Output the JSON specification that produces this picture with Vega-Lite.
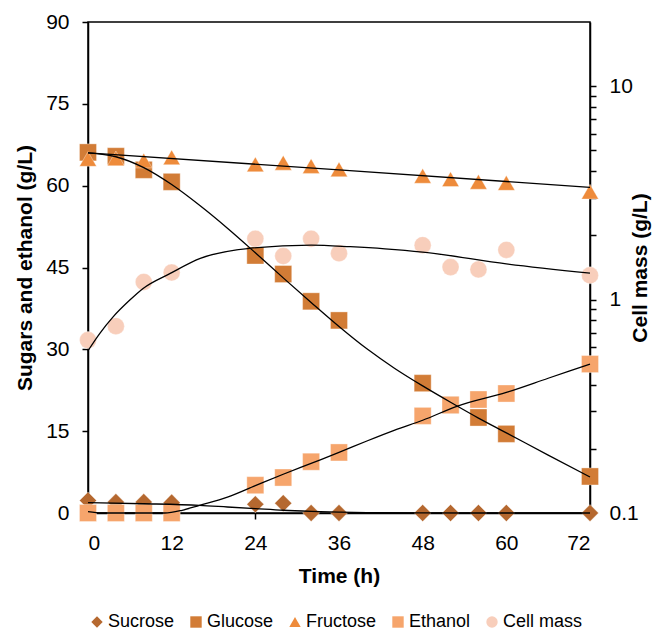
{
  "$schema": "https://vega.github.io/schema/vega-lite/v6.json",
  "width": 502,
  "height": 491,
  "autosize": {"type": "none"},
  "padding": {"left": 88, "top": 22, "right": 76, "bottom": 117},
  "config": {
    "view": {"stroke": "black", "strokeWidth": 1.5},
    "axis": {
      "domainColor": "black", "tickColor": "black", "domainWidth": 1.5, "tickWidth": 1.5, "tickSize": 6,
      "labelFont": "Liberation Sans", "labelFontSize": 21, "labelColor": "black", "labelPadding": 13,
      "titleFont": "Liberation Sans", "titleFontSize": 21, "titleFontWeight": "bold", "titleColor": "black",
      "grid": false
    },
    "legend": {
      "labelFont": "Liberation Sans", "labelFontSize": 18, "labelColor": "black",
      "symbolStrokeWidth": 0, "symbolSize": 130, "labelOffset": 2, "columnPadding": 12
    }
  },
  "datasets": {
    "obs": [
      {"t": 0, "series": "Sucrose", "v": 2.3}, {"t": 4, "series": "Sucrose", "v": 2.0}, {"t": 8, "series": "Sucrose", "v": 2.0}, {"t": 12, "series": "Sucrose", "v": 1.9},
      {"t": 24, "series": "Sucrose", "v": 1.6}, {"t": 28, "series": "Sucrose", "v": 1.8}, {"t": 32, "series": "Sucrose", "v": 0}, {"t": 36, "series": "Sucrose", "v": 0},
      {"t": 48, "series": "Sucrose", "v": 0}, {"t": 52, "series": "Sucrose", "v": 0}, {"t": 56, "series": "Sucrose", "v": 0}, {"t": 60, "series": "Sucrose", "v": 0}, {"t": 72, "series": "Sucrose", "v": 0},
      {"t": 0, "series": "Glucose", "v": 66.1}, {"t": 4, "series": "Glucose", "v": 65.4}, {"t": 8, "series": "Glucose", "v": 62.9}, {"t": 12, "series": "Glucose", "v": 60.7},
      {"t": 24, "series": "Glucose", "v": 47.2}, {"t": 28, "series": "Glucose", "v": 43.8}, {"t": 32, "series": "Glucose", "v": 38.8}, {"t": 36, "series": "Glucose", "v": 35.3},
      {"t": 48, "series": "Glucose", "v": 23.8}, {"t": 52, "series": "Glucose", "v": 19.8}, {"t": 56, "series": "Glucose", "v": 17.5}, {"t": 60, "series": "Glucose", "v": 14.5}, {"t": 72, "series": "Glucose", "v": 6.7},
      {"t": 0, "series": "Fructose", "v": 64.9}, {"t": 4, "series": "Fructose", "v": 65.0}, {"t": 8, "series": "Fructose", "v": 64.6}, {"t": 12, "series": "Fructose", "v": 65.2},
      {"t": 24, "series": "Fructose", "v": 63.9}, {"t": 28, "series": "Fructose", "v": 64.2}, {"t": 32, "series": "Fructose", "v": 63.6}, {"t": 36, "series": "Fructose", "v": 63.0},
      {"t": 48, "series": "Fructose", "v": 61.8}, {"t": 52, "series": "Fructose", "v": 61.2}, {"t": 56, "series": "Fructose", "v": 60.7}, {"t": 60, "series": "Fructose", "v": 60.5}, {"t": 72, "series": "Fructose", "v": 58.9},
      {"t": 0, "series": "Ethanol", "v": 0}, {"t": 4, "series": "Ethanol", "v": 0}, {"t": 8, "series": "Ethanol", "v": 0}, {"t": 12, "series": "Ethanol", "v": 0},
      {"t": 24, "series": "Ethanol", "v": 5.1}, {"t": 28, "series": "Ethanol", "v": 6.5}, {"t": 32, "series": "Ethanol", "v": 9.4}, {"t": 36, "series": "Ethanol", "v": 11.1},
      {"t": 48, "series": "Ethanol", "v": 17.8}, {"t": 52, "series": "Ethanol", "v": 19.8}, {"t": 56, "series": "Ethanol", "v": 20.8}, {"t": 60, "series": "Ethanol", "v": 21.9}, {"t": 72, "series": "Ethanol", "v": 27.3}
    ],
    "cell": [
      {"t": 0, "series": "Cell mass", "v": 0.646}, {"t": 4, "series": "Cell mass", "v": 0.751}, {"t": 8, "series": "Cell mass", "v": 1.21}, {"t": 12, "series": "Cell mass", "v": 1.34},
      {"t": 24, "series": "Cell mass", "v": 1.93}, {"t": 28, "series": "Cell mass", "v": 1.60}, {"t": 32, "series": "Cell mass", "v": 1.93}, {"t": 36, "series": "Cell mass", "v": 1.65},
      {"t": 48, "series": "Cell mass", "v": 1.80}, {"t": 52, "series": "Cell mass", "v": 1.42}, {"t": 56, "series": "Cell mass", "v": 1.385}, {"t": 60, "series": "Cell mass", "v": 1.71}, {"t": 72, "series": "Cell mass", "v": 1.30}
    ],
    "fit": [
      {"t": 0, "series": "Sucrose", "v": 1.9}, {"t": 8, "series": "Sucrose", "v": 1.7}, {"t": 16, "series": "Sucrose", "v": 1.4}, {"t": 20, "series": "Sucrose", "v": 1.1},
      {"t": 24, "series": "Sucrose", "v": 0.8}, {"t": 28, "series": "Sucrose", "v": 0.5}, {"t": 32, "series": "Sucrose", "v": 0.3}, {"t": 36, "series": "Sucrose", "v": 0.15},
      {"t": 40, "series": "Sucrose", "v": 0.06}, {"t": 48, "series": "Sucrose", "v": 0.01}, {"t": 60, "series": "Sucrose", "v": 0}, {"t": 72, "series": "Sucrose", "v": 0},
      {"t": 0, "series": "Glucose", "v": 66}, {"t": 4, "series": "Glucose", "v": 65.3}, {"t": 8, "series": "Glucose", "v": 63.3}, {"t": 12, "series": "Glucose", "v": 60.2},
      {"t": 16, "series": "Glucose", "v": 56.4}, {"t": 20, "series": "Glucose", "v": 52.2}, {"t": 24, "series": "Glucose", "v": 47.7}, {"t": 28, "series": "Glucose", "v": 43.1},
      {"t": 32, "series": "Glucose", "v": 38.6}, {"t": 36, "series": "Glucose", "v": 34.2}, {"t": 40, "series": "Glucose", "v": 30.1}, {"t": 44, "series": "Glucose", "v": 26.5},
      {"t": 48, "series": "Glucose", "v": 23.3}, {"t": 52, "series": "Glucose", "v": 20.3}, {"t": 56, "series": "Glucose", "v": 17.4}, {"t": 60, "series": "Glucose", "v": 14.7},
      {"t": 66, "series": "Glucose", "v": 10.6}, {"t": 72, "series": "Glucose", "v": 6.6},
      {"t": 0, "series": "Fructose", "v": 66}, {"t": 36, "series": "Fructose", "v": 62.9}, {"t": 72, "series": "Fructose", "v": 59.7},
      {"t": 0, "series": "Ethanol", "v": 0.25}, {"t": 2, "series": "Ethanol", "v": 0}, {"t": 11, "series": "Ethanol", "v": 0}, {"t": 13.5, "series": "Ethanol", "v": 0.5},
      {"t": 16, "series": "Ethanol", "v": 1.4}, {"t": 20, "series": "Ethanol", "v": 2.9}, {"t": 24, "series": "Ethanol", "v": 5.0}, {"t": 28, "series": "Ethanol", "v": 7.1},
      {"t": 32, "series": "Ethanol", "v": 9.1}, {"t": 36, "series": "Ethanol", "v": 11.1}, {"t": 40, "series": "Ethanol", "v": 13.2}, {"t": 44, "series": "Ethanol", "v": 15.2},
      {"t": 48, "series": "Ethanol", "v": 17.0}, {"t": 53, "series": "Ethanol", "v": 19.6}, {"t": 60, "series": "Ethanol", "v": 22.1}, {"t": 66, "series": "Ethanol", "v": 24.7}, {"t": 72, "series": "Ethanol", "v": 27.3}
    ],
    "cellfit": [
      {"t": 0, "v": 0.576}, {"t": 1.7, "v": 0.695}, {"t": 3.6, "v": 0.83}, {"t": 6, "v": 0.995}, {"t": 7.9, "v": 1.128},
      {"t": 11.8, "v": 1.327}, {"t": 16.1, "v": 1.56}, {"t": 23.2, "v": 1.74}, {"t": 32, "v": 1.80}, {"t": 37.6, "v": 1.77},
      {"t": 42.6, "v": 1.73}, {"t": 48, "v": 1.67}, {"t": 60, "v": 1.47}, {"t": 72, "v": 1.33}
    ]
  },
  "encoding": {
    "x": {
      "field": "t", "type": "quantitative",
      "scale": {"domain": [0, 72], "nice": false, "zero": false},
      "axis": {"values": [0, 12, 24, 36, 48, 60, 72], "title": "Time (h)", "titlePadding": 12}
    }
  },
  "layer": [
    {
      "encoding": {
        "y": {
          "field": "v", "type": "quantitative",
          "scale": {"domain": [0, 90], "nice": false},
          "axis": {"values": [0, 15, 30, 45, 60, 75, 90], "title": "Sugars and ethanol (g/L)", "titlePadding": 10}
        }
      },
      "layer": [
        {
          "data": {"name": "obs"},
          "mark": {"type": "point", "filled": true, "size": 290, "opacity": 1, "stroke": "white", "strokeOpacity": 0.35, "strokeWidth": 1},
          "encoding": {
            "color": {
              "field": "series", "type": "nominal",
              "scale": {"domain": ["Sucrose", "Glucose", "Fructose", "Ethanol", "Cell mass"], "range": ["#B5682F", "#D27C36", "#EE8B3B", "#F6A56C", "#F8CEBB"]},
              "legend": {"title": null, "orient": "none", "direction": "horizontal", "columns": 5, "legendX": 0, "legendY": 591}
            },
            "shape": {
              "field": "series", "type": "nominal",
              "scale": {"domain": ["Sucrose", "Glucose", "Fructose", "Ethanol", "Cell mass"], "range": ["diamond", "square", "triangle-up", "square", "circle"]},
              "legend": {"title": null, "orient": "none", "direction": "horizontal", "columns": 5, "legendX": 0, "legendY": 591}
            }
          }
        },
        {
          "data": {"name": "fit"},
          "mark": {"type": "line", "color": "black", "strokeWidth": 1.3, "interpolate": "monotone"},
          "encoding": {"detail": {"field": "series"}}
        }
      ]
    },
    {
      "encoding": {
        "y": {
          "field": "v", "type": "quantitative",
          "scale": {"type": "log", "domain": [0.1, 20], "nice": false},
          "axis": {
            "orient": "right", "title": "Cell mass (g/L)", "titleAngle": 270, "titlePadding": 12,
            "values": [0.1, 0.2, 0.3, 0.4, 0.5, 0.6, 0.7, 0.8, 0.9, 1, 2, 3, 4, 5, 6, 7, 8, 9, 10],
            "format": "~g", "labelOverlap": false,
            "labelExpr": "(datum.value == 0.1 || datum.value == 1 || datum.value == 10) ? datum.label : ''"
          }
        }
      },
      "layer": [
        {
          "data": {"name": "cell"},
          "mark": {"type": "point", "filled": true, "size": 290, "opacity": 1, "stroke": "white", "strokeOpacity": 0.35, "strokeWidth": 1},
          "encoding": {
            "color": {
              "field": "series", "type": "nominal",
              "scale": {"domain": ["Sucrose", "Glucose", "Fructose", "Ethanol", "Cell mass"], "range": ["#B5682F", "#D27C36", "#EE8B3B", "#F6A56C", "#F8CEBB"]},
              "legend": {"title": null, "orient": "none", "direction": "horizontal", "columns": 5, "legendX": 0, "legendY": 591}
            },
            "shape": {
              "field": "series", "type": "nominal",
              "scale": {"domain": ["Sucrose", "Glucose", "Fructose", "Ethanol", "Cell mass"], "range": ["diamond", "square", "triangle-up", "square", "circle"]},
              "legend": {"title": null, "orient": "none", "direction": "horizontal", "columns": 5, "legendX": 0, "legendY": 591}
            }
          }
        },
        {
          "data": {"name": "cellfit"},
          "mark": {"type": "line", "color": "black", "strokeWidth": 1.3, "interpolate": "monotone"},
          "encoding": {}
        }
      ]
    }
  ],
  "resolve": {"scale": {"y": "independent"}}
}
